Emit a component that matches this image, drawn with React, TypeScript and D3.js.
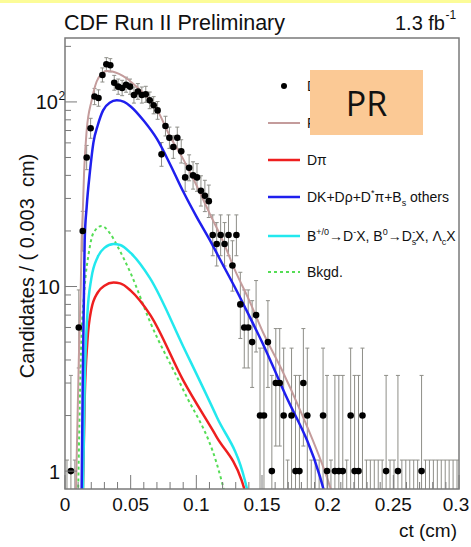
import React from 'react';
import * as d3 from 'd3';

const W = 471;
const H = 547;

// ct distribution, 100 bins of 0.003 cm from 0 to 0.3 cm
const binWidth = 0.003;
const counts = [
  0, 1, 0, 6, 20, 50, 72, 107, 105, 140,
  160, 158, 127, 121, 119, 124, 121, 109, 114, 109,
  110, 102, 96, 90, 52, 74, 64, 57, 64, 54,
  39, 44, 40, 39, 33, 31, 29, 19, 17, 19,
  17, 19, 13, 19, 8, 6, 6, 5, 7, 2,
  2, 5, 1, 3, 3, 2, 0, 2, 1, 1,
  3, 2, 0, 0, 0, 2, 1, 0, 1, 1,
  1, 0, 2, 1, 1, 2, 0, 0, 0, 0,
  0, 1, 0, 0, 1, 0, 0, 0, 0, 0,
  1, 0, 0, 0, 0, 0, 0, 0, 0, 0,
];

// Fit projections as [ct (cm), candidates / bin]
const fitTotal: [number, number][] = [
  [0.0082, 0.7], [0.0105, 4], [0.012, 10], [0.0127, 17.9], [0.0135, 25], [0.0145, 41],
  [0.0165, 70], [0.0203, 102], [0.0241, 129], [0.028, 142], [0.032, 147], [0.036, 146],
  [0.047, 134], [0.055, 120], [0.0622, 107], [0.07, 91], [0.08, 65], [0.09, 49],
  [0.1, 35.5], [0.11, 25], [0.12, 17.8], [0.13, 12], [0.14, 8.5], [0.151, 5.6],
  [0.165, 3.55], [0.179, 2.14], [0.1993, 0.93], [0.205, 0.7],
];
const fitDK: [number, number][] = [
  [0.0126, 0.7], [0.0135, 3], [0.0145, 10], [0.015, 17.9], [0.0165, 27], [0.019, 42],
  [0.0216, 60], [0.025, 75], [0.029, 90], [0.034, 99], [0.0394, 102], [0.045, 100],
  [0.05, 94.5], [0.06, 79], [0.07, 63], [0.08, 46], [0.09, 32.7], [0.1, 24],
  [0.11, 18], [0.12, 13.2], [0.13, 9.7], [0.14, 7], [0.15, 5], [0.1662, 2.75],
  [0.1942, 0.93], [0.199, 0.7],
];
const fitDpi: [number, number][] = [
  [0.0135, 0.7], [0.015, 2.5], [0.017, 5], [0.02, 7.5], [0.025, 9.3], [0.03, 10.1],
  [0.037, 10.5], [0.042, 10.4], [0.05, 9.5], [0.065, 7.0], [0.09, 3.1], [0.1155, 1.53],
  [0.1345, 0.89], [0.139, 0.7],
];
const fitBX: [number, number][] = [
  [0.0136, 0.7], [0.015, 3], [0.017, 7], [0.02, 11], [0.025, 14.5], [0.03, 16.2],
  [0.037, 17], [0.042, 16.8], [0.05, 15.2], [0.0647, 11.1], [0.0901, 4.72],
  [0.1155, 1.97], [0.137, 0.89], [0.1405, 0.7],
];
const fitBkg: [number, number][] = [
  [0.0099, 0.7], [0.012, 4], [0.015, 10], [0.018, 15], [0.0216, 19.5], [0.0279, 21.3],
  [0.0343, 19.4], [0.04, 16.5], [0.05, 11.8], [0.0647, 6.45], [0.0901, 2.75],
  [0.1155, 1.1], [0.123, 0.7],
];

const xMajor = [0, 0.05, 0.1, 0.15, 0.2, 0.25, 0.3];
const xMajorLabels = ['0', '0.05', '0.1', '0.15', '0.2', '0.25', '0.3'];
const yMajor = [1, 10, 100];

const FONT = '"Liberation Sans", Arial, sans-serif';
const C_TOTAL = '#c49c9c';
const C_DK = '#1f1fee';
const C_DPI = '#ee1f1f';
const C_BX = '#22e8ee';
const C_BKG = '#55dd55';
const C_ERR = '#8e8e88';
const C_AXIS = '#7a7a7a';

// Poisson probability P(X <= n | mu)
function poissonCdf(n: number, mu: number) {
  let term = Math.exp(-mu);
  let sum = term;
  for (let k = 1; k <= n; k++) {
    term *= mu / k;
    sum += term;
  }
  return sum;
}

// 68% Poisson interval of a bin content
function poissonInterval(n: number): [number, number] {
  if (n === 0) return [0, -Math.log(1 - 0.6827)];
  const a = 0.15866;
  let lo = n, hi = n + 10 * Math.sqrt(n) + 10;
  for (let i = 0; i < 60; i++) {
    const m = (lo + hi) / 2;
    if (poissonCdf(n, m) > a) lo = m; else hi = m;
  }
  const up = (lo + hi) / 2;
  let l0 = 0, l1 = n;
  for (let i = 0; i < 60; i++) {
    const m = (l0 + l1) / 2;
    if (poissonCdf(n - 1, m) > 1 - a) l0 = m; else l1 = m;
  }
  return [(l0 + l1) / 2, up];
}

export default function App() {
  const left = 65, right = 459, top = 38, bottom = 489;
  const x = d3.scaleLinear().domain([0, 0.3]).range([left, right]);
  const y = d3.scaleLog().domain([0.8, 222]).range([bottom, top]);

  const line = d3
    .line<[number, number]>()
    .x((d) => x(d[0]))
    .y((d) => y(d[1]))
    .curve(d3.curveMonotoneX);

  const xMinor = d3.range(0, 31).map((i) => i * 0.01).filter((v) => !xMajor.some((m) => Math.abs(m - v) < 1e-9));
  const yMinor: number[] = [];
  [1, 10, 100].forEach((dec) => {
    for (let k = 2; k <= 9; k++) if (dec * k < 222) yMinor.push(dec * k);
  });

  const bins = counts.map((n, i) => {
    const [lo, hi] = poissonInterval(n);
    return { n, cx: x((i + 0.5) * binWidth), lo, hi };
  });

  const legendX1 = 268, legendX2 = 300, legendTX = 307;
  const legendRows = [86, 123, 160, 197, 236, 272];

  return (
    <svg
      width={W}
      height={H}
      viewBox={`0 0 ${W} ${H}`}
      style={{ position: 'absolute', left: 0, top: 0, background: '#fff' }}
      fontFamily={FONT}
    >
      <rect x={0} y={0} width={W} height={H} fill="#fff" />
      <rect x={0} y={0} width={W} height={3} fill="#fcfc98" />
      <defs>
        <clipPath id="plotArea">
          <rect x={left} y={top} width={right - left} height={bottom - top} />
        </clipPath>
      </defs>

      {/* title */}
      <text x={64} y={29.5} fontSize={21.5} fill="#111">CDF Run II Preliminary</text>
      <text x={445} y={29.5} fontSize={20} fill="#111" textAnchor="end">1.3 fb</text>
      <text x={445.5} y={19} fontSize={12} fill="#111">-1</text>

      <g clipPath="url(#plotArea)">
        {/* error bars */}
        {bins.map((b, i) => {
          const yTop = y(b.hi);
          const yBot = b.lo > 0.8 ? y(b.lo) : bottom;
          return (
            <g key={`e${i}`} stroke={C_ERR} strokeWidth={1}>
              <line x1={b.cx} x2={b.cx} y1={yBot} y2={yTop} />
              <line x1={b.cx - 2} x2={b.cx + 2} y1={yTop} y2={yTop} />
              {b.lo > 0.8 && <line x1={b.cx - 2} x2={b.cx + 2} y1={yBot} y2={yBot} />}
            </g>
          );
        })}

        {/* fit components */}
        <path d={line(fitBkg) ?? ''} fill="none" stroke={C_BKG} strokeWidth={2} strokeDasharray="3,3" />
        <path d={line(fitDpi) ?? ''} fill="none" stroke={C_DPI} strokeWidth={2.5} />
        <path d={line(fitBX) ?? ''} fill="none" stroke={C_BX} strokeWidth={2.5} />
        <path d={line(fitDK) ?? ''} fill="none" stroke={C_DK} strokeWidth={2.5} />
        <path d={line(fitTotal) ?? ''} fill="none" stroke={C_TOTAL} strokeWidth={2} />

        {/* data points */}
        {bins.map((b, i) =>
          b.n > 0 ? <circle key={`p${i}`} cx={b.cx} cy={y(b.n)} r={3.3} fill="#000" /> : null
        )}
      </g>

      {/* frame */}
      <rect x={left} y={top} width={right - left} height={bottom - top} fill="none" stroke={C_AXIS} strokeWidth={1.5} />

      {/* x ticks */}
      {xMajor.map((v, i) => (
        <g key={`xm${i}`}>
          <line x1={x(v)} x2={x(v)} y1={bottom} y2={bottom - 14} stroke={C_AXIS} strokeWidth={1} />
          <text
            x={i === xMajor.length - 1 ? Math.min(x(v), 456) : x(v)}
            y={511}
            fontSize={19}
            textAnchor="middle"
            fill="#111"
          >
            {xMajorLabels[i]}
          </text>
        </g>
      ))}
      {xMinor.map((v, i) => (
        <line key={`xn${i}`} x1={x(v)} x2={x(v)} y1={bottom} y2={bottom - 7} stroke={C_AXIS} strokeWidth={1} />
      ))}

      {/* y ticks */}
      {yMajor.map((v) => (
        <line key={`ym${v}`} x1={left} x2={left + 12} y1={y(v)} y2={y(v)} stroke={C_AXIS} strokeWidth={1} />
      ))}
      {yMinor.map((v) => (
        <line key={`yn${v}`} x1={left} x2={left + 6} y1={y(v)} y2={y(v)} stroke={C_AXIS} strokeWidth={1} />
      ))}
      <text x={60} y={y(1) + 7.5} fontSize={20} textAnchor="end" fill="#111">1</text>
      <text x={60} y={y(10) + 7.5} fontSize={20} textAnchor="end" fill="#111">10</text>
      <text x={58} y={y(100) + 7.5} fontSize={20} textAnchor="end" fill="#111">10</text>
      <text x={58.5} y={y(100) - 2} fontSize={12} fill="#111">2</text>

      {/* axis titles */}
      <text x={457} y={537} fontSize={19} textAnchor="end" fill="#111">ct (cm)</text>
      <text
        transform={`translate(34, 266) rotate(-90)`}
        fontSize={20}
        textAnchor="middle"
        fill="#111"
        xmlSpace="preserve"
      >
        Candidates / ( 0.003  cm)
      </text>

      {/* legend */}
      <g fontSize={14} fill="#111">
        <circle cx={284} cy={legendRows[0]} r={3} fill="#000" />
        <text x={legendTX} y={legendRows[0] + 5}>Data</text>

        <line x1={legendX1} x2={legendX2} y1={legendRows[1]} y2={legendRows[1]} stroke={C_TOTAL} strokeWidth={2} />
        <text x={legendTX} y={legendRows[1] + 5}>Fit</text>

        <line x1={legendX1} x2={legendX2} y1={legendRows[2]} y2={legendRows[2]} stroke={C_DPI} strokeWidth={2.5} />
        <text x={legendTX} y={legendRows[2] + 5}>Dπ</text>

        <line x1={legendX1} x2={legendX2} y1={legendRows[3]} y2={legendRows[3]} stroke={C_DK} strokeWidth={2.5} />
        <text x={legendTX} y={legendRows[3] + 5}>
          DK+Dρ+D<tspan dy={-6} fontSize={9}>*</tspan>
          <tspan dy={6}>π+B</tspan>
          <tspan dy={4} fontSize={9}>s</tspan>
          <tspan dy={-4}> others</tspan>
        </text>

        <line x1={legendX1} x2={legendX2} y1={legendRows[4]} y2={legendRows[4]} stroke={C_BX} strokeWidth={2.5} />
        <text x={legendTX} y={legendRows[4] + 5}>
          B<tspan dy={-6} fontSize={9}>+/0</tspan>
          <tspan dy={6}>→D</tspan>
          <tspan dy={-6} fontSize={9}>-</tspan>
          <tspan dy={6}>X, B</tspan>
          <tspan dy={-6} fontSize={9}>0</tspan>
          <tspan dy={6}>→D</tspan>
          <tspan dy={4} fontSize={9}>s</tspan>
          <tspan dy={-10} dx={-4} fontSize={9}>-</tspan>
          <tspan dy={6}>X, Λ</tspan>
          <tspan dy={4} fontSize={9}>c</tspan>
          <tspan dy={-4}>X</tspan>
        </text>

        <line x1={legendX1} x2={legendX2} y1={legendRows[5]} y2={legendRows[5]} stroke={C_BKG} strokeWidth={2} strokeDasharray="3,3" />
        <text x={legendTX} y={legendRows[5] + 5}>Bkgd.</text>
      </g>

      {/* label box */}
      <rect x={310} y={70} width={113} height={65} fill="#fbc995" />
      <text x={366.5} y={116} fontSize={34} textAnchor="middle" fill="#111" fontFamily='"Open Sans", "Noto Sans", sans-serif'>PR</text>
    </svg>
  );
}
